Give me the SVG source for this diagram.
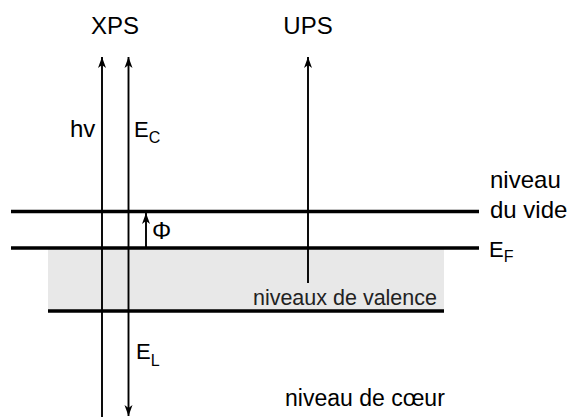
<svg xmlns="http://www.w3.org/2000/svg" width="571" height="417" viewBox="0 0 571 417">
<style>
text{font-family:"Liberation Sans",Arial,sans-serif;fill:#000}
.lvl{stroke:#000;stroke-width:3.5;fill:none}
.ray{stroke:#000;stroke-width:1.9;fill:none}
.big{font-size:24px}
.lab{font-size:22px}
.sub{font-size:16px}
</style>
<defs>
<marker id="ah" viewBox="-11 -5 12 10" markerWidth="12" markerHeight="10" refX="0" refY="0" orient="auto" markerUnits="userSpaceOnUse">
<path d="M0,0 L-11,-4 L-8,0 L-11,4 z" fill="#000"/>
</marker>
</defs>
<g id="valence-band">
<rect x="48" y="249" width="396" height="61" fill="#e8e8e8"/>
<text x="437" y="305" font-size="21.5" text-anchor="end" style="fill:#222">niveaux de valence</text>
</g>
<g id="vacuum-level">
<line class="lvl" x1="11" y1="211.5" x2="479" y2="211.5"/>
<text class="big" x="490" y="188">niveau</text>
<text class="big" x="490" y="218">du vide</text>
</g>
<g id="fermi-level">
<line class="lvl" x1="11" y1="248" x2="479" y2="248"/>
<text class="lab" x="489" y="257">E<tspan class="sub" dy="5">F</tspan></text>
</g>
<g id="core-level">
<line class="lvl" x1="48" y1="311" x2="444" y2="311"/>
<text x="285" y="406" font-size="23">niveau de cœur</text>
</g>
<g id="xps">
<text class="big" x="115" y="34" text-anchor="middle">XPS</text>
</g>
<g id="ups">
<text class="big" x="308" y="34" text-anchor="middle">UPS</text>
</g>
<g id="connectors">
<line class="ray" x1="102" y1="417" x2="102" y2="57" marker-end="url(#ah)"/>
<line class="ray" x1="128.5" y1="212" x2="128.5" y2="57" marker-end="url(#ah)"/>
<line class="ray" x1="128.5" y1="212" x2="128.5" y2="416" marker-end="url(#ah)"/>
<line class="ray" x1="308" y1="283" x2="308" y2="57" marker-end="url(#ah)"/>
<line class="ray" x1="146" y1="248" x2="146" y2="213" marker-end="url(#ah)"/>
</g>
<g id="labels">
<text class="big" x="70" y="137">hv</text>
<text class="lab" x="134" y="137">E<tspan class="sub" dy="6">C</tspan></text>
<text x="152" y="239" font-size="24">Φ</text>
<text class="lab" x="136" y="359">E<tspan class="sub" dy="7">L</tspan></text>
</g>
</svg>
